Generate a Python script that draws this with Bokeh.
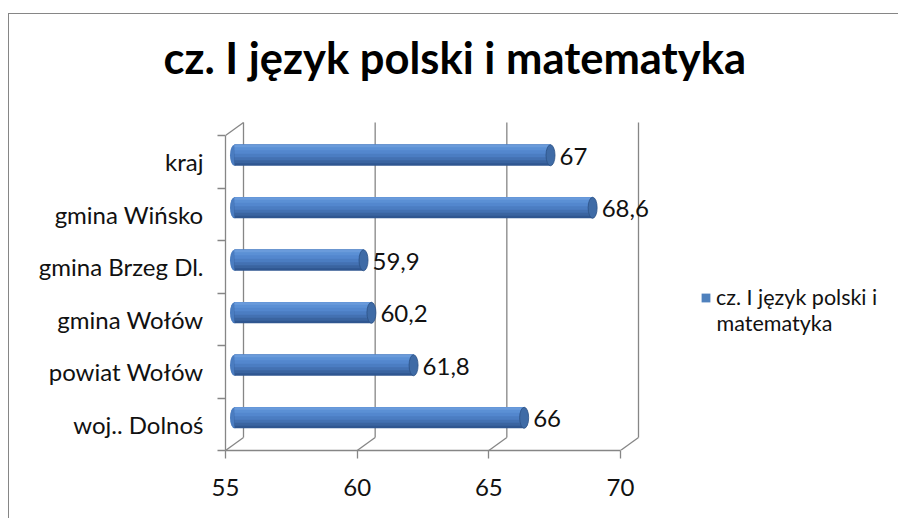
from bokeh.plotting import figure
from bokeh.models import (ColumnDataSource, Range1d, FixedTicker, Label, Legend, LegendItem)
from bokeh.core.properties import value
from bokeh.embed import file_html
from bokeh.resources import INLINE

# ---- data ----
categories = ["woj.. Dolnoś", "powiat Wołów", "gmina Wołów", "gmina Brzeg Dl.", "gmina Wińsko", "kraj"]
values = [66, 61.8, 60.2, 59.9, 68.6, 67]
x_ticks = [55, 60, 65, 70]
title_text = "cz. I język polski i matematyka"
series_line1 = "cz. I język polski i"
series_line2 = "matematyka"

FONT = "Lato"
GRID = "#868686"
TXT = "#111111"

# ---- geometry (pixel scales) ----
PX_X = 395 / 15.0          # px per x unit
PX_Y = 52.5                # px per category
DX = 18 / PX_X             # 3D depth offset (x)
DY = 13 / PX_Y             # 3D depth offset (y)

W, H = 890, 505
ML, MB, MT = 216, 69, 78
FW = W - ML
FH = H - MB - MT

p = figure(width=W, height=H, output_backend="svg", toolbar_location=None,
           x_range=Range1d(x_ticks[0], x_ticks[0] + FW / PX_X),
           y_range=Range1d(0, FH / PX_Y),
           min_border_left=ML, min_border_right=0, min_border_top=MT, min_border_bottom=MB)
p.styles = {"margin-left": "8px", "margin-top": "13px",
            "border-left": "1px solid #868686", "border-top": "1px solid #868686"}
p.outline_line_color = None
p.xgrid.visible = False
p.ygrid.visible = False
p.background_fill_color = "white"
p.border_fill_color = "white"

# ---- title ----
p.title.text = title_text
p.title.align = "left"
p.title.offset = -62
p.title.standoff = 20
p.title.text_font = FONT
p.title.text_font_size = "43.5px"
p.title.text_font_style = "bold"
p.title.text_color = "#000000"

n = len(categories)
x0, x1 = x_ticks[0], x_ticks[-1]

# back wall gridlines + floor diagonals
p.segment(x0=[t + DX for t in x_ticks], y0=[DY] * len(x_ticks),
          x1=[t + DX for t in x_ticks], y1=[n + DY] * len(x_ticks),
          line_color=GRID, line_width=1.3)
p.segment(x0=x_ticks, y0=[0] * len(x_ticks), x1=[t + DX for t in x_ticks], y1=[DY] * len(x_ticks),
          line_color=GRID, line_width=1.3)
# left wall top edge
p.segment(x0=[x0], y0=[n], x1=[x0 + DX], y1=[n + DY], line_color=GRID, line_width=1.3)

# ---- bars (cylinders) ----
yc = [i + 0.5 + DY / 2 for i in range(n)]
src = ColumnDataSource(dict(
    y=yc,
    left=[x0 + DX / 2] * n,
    right=[v + DX / 2 for v in values],
    lab=[(str(v).replace(".", ",") if v != int(v) else str(int(v))) for v in values],
))

BAR_PX = 21
# left rounded end
p.ellipse(x="left", y="y", width=9, height=BAR_PX, width_units="screen", height_units="screen",
          source=src, fill_color="#4a7cc0", line_color=None)
# gradient layers: each covers from the cylinder top down to `bot` px; dark first
layers = [(21, "#2f5690"), (18.5, "#3a64a0"), (15.5, "#4371b2"), (12.5, "#4b7dc2"),
          (9, "#5387ce"), (5.5, "#5b90d5"), (2.5, "#6a9bdb")]
for bot, col in layers:
    off = (BAR_PX / 2 - bot / 2) / PX_Y
    hgt = bot / PX_Y
    p.hbar(y=[c + off for c in yc], height=hgt, left=[x0 + DX / 2] * n,
           right=[v + DX / 2 for v in values], fill_color=col, line_color=None)
# right end cap
p.ellipse(x="right", y="y", width=9, height=BAR_PX, width_units="screen", height_units="screen",
          source=src, fill_color="#3f6ba6", line_color="#2c5285", line_width=0.8)

# data labels
p.text(x="right", y="y", text="lab", source=src, x_offset=9, y_offset=1,
       text_baseline="middle", text_align="left", text_font=value(FONT),
       text_font_size="24px", text_color=TXT)

# ---- axes ----
xa = p.xaxis[0]
xa.ticker = FixedTicker(ticks=x_ticks)
xa.bounds = (x0, x1)
xa.axis_line_color = GRID
xa.axis_line_width = 1.3
xa.major_tick_line_color = GRID
xa.major_tick_line_width = 1.3
xa.major_tick_out = 8
xa.major_tick_in = 0
xa.minor_tick_line_color = None
xa.major_label_standoff = 20
xa.major_label_text_font = FONT
xa.major_label_text_font_size = "24px"
xa.major_label_text_color = TXT

ya = p.yaxis[0]
centers = [i + 0.5 for i in range(n)]
ya.ticker = FixedTicker(ticks=centers, minor_ticks=list(range(n + 1)))
ya.major_label_overrides = {c: lab for c, lab in zip(centers, categories)}
ya.bounds = (0, n)
ya.axis_line_color = GRID
ya.axis_line_width = 1.3
ya.major_tick_line_color = None
ya.major_tick_out = 0
ya.major_tick_in = 0
ya.minor_tick_line_color = GRID
ya.minor_tick_line_width = 1.3
ya.minor_tick_out = 8
ya.minor_tick_in = 0
ya.major_label_standoff = 14
ya.major_label_text_font = FONT
ya.major_label_text_font_size = "24px"
ya.major_label_text_color = TXT

# ---- legend ----
leg_r = p.quad(left=[x0], right=[x0 + 1], bottom=[-6], top=[-5], fill_color="#4f81bd", line_color=None)
legend = Legend(items=[LegendItem(label=series_line1, renderers=[leg_r])],
                location=(475, 140), padding=0, margin=0, border_line_color=None,
                background_fill_alpha=0, glyph_width=11, glyph_height=11, label_standoff=5,
                label_text_font=FONT, label_text_font_size="21.5px", label_text_color=TXT)
p.add_layout(legend, "center")
p.add_layout(Label(x=491, y=128, x_units="screen", y_units="screen", text=series_line2,
                   text_align="left", text_baseline="middle", text_font=FONT,
                   text_font_size="21.5px", text_color=TXT))

open("out.html", "w").write(file_html(p, INLINE))
